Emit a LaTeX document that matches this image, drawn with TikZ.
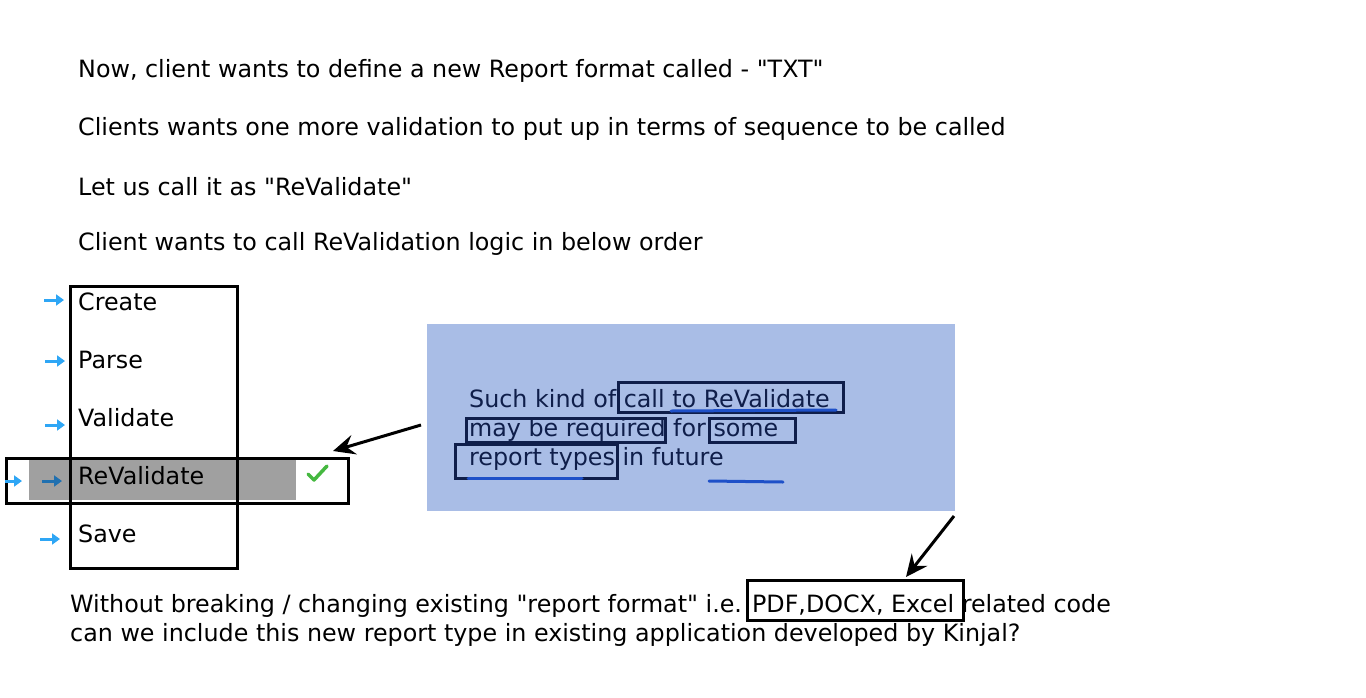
\documentclass[tikz,border=0pt]{standalone}
\usepackage{fontspec}
\setmainfont{DejaVu Sans}[Ligatures=TeXOff]
\usetikzlibrary{arrows.meta, positioning, fit}

\definecolor{notefill}{HTML}{A9BDE6}
\definecolor{notetext}{HTML}{0F1E4A}
\definecolor{pen}{HTML}{1E50C8}
\definecolor{stepblue}{HTML}{2EA6F5}
\definecolor{stepdark}{HTML}{2070B0}
\definecolor{rowgrey}{HTML}{A0A0A0}
\definecolor{okgreen}{HTML}{45B840}

\begin{document}
\begin{tikzpicture}[x=1pt, y=-1pt,
  txt/.style={anchor=west, inner sep=0pt, font=\fontsize{23.8}{29}\selectfont, align=left},
  stage/.style={txt},
  frame/.style={draw, line width=3pt},
  phrasebox/.style={draw=notetext, line width=3pt},
  penline/.style={draw=pen, line width=3pt, line cap=round},
  steparr/.style={-{Triangle[length=8pt, width=11pt]}, line width=3pt, stepblue},
  arr/.style={-{Stealth[length=22pt, width=20pt, inset=8pt]}, line width=3pt}
]
  \useasboundingbox (0,0) rectangle (1366,697);

  % Intro text
  \node[txt] (l1) at (78,71) {Now, client wants to define a new Report format called - "TXT"};
  \node[txt] (l2) at (78,129) {Clients wants one more validation to put up in terms of sequence to be called};
  \node[txt] (l3) at (78,187) {Let us call it as "ReValidate"};
  \node[txt] (l4) at (78,244) {Client wants to call ReValidation logic in below order};

  % Sequence of calls
  \fill[rowgrey] (29,458) rectangle (296,500);
  \node[frame, minimum width=167pt, minimum height=282pt, anchor=north west] (seq) at (69,285) {};
  \node[frame, minimum width=342pt, minimum height=45pt, anchor=north west] (row) at (5,457) {};
  \node[stage] (create) at (78,302) {Create};
  \node[stage] (parse) at (78,360) {Parse};
  \node[stage] (validate) at (78,418) {Validate};
  \node[stage] (revalidate) at (78,476) {ReValidate};
  \node[stage] (save) at (78,534) {Save};

  \draw[steparr] (44,300) -- (64,300);
  \draw[steparr] (45,361) -- (65,361);
  \draw[steparr] (45,425) -- (65,425);
  \draw[steparr, stepdark] (42,481) -- (62,481);
  \draw[steparr] (5,481) -- (22,481);
  \draw[steparr] (40,539) -- (60,539);

  % check mark
  \draw[okgreen, line width=3.5pt, line cap=round, line join=round] (308,474) -- (314,480) -- (327,466);

  % Note
  \node[fill=notefill, minimum width=528pt, minimum height=187pt, anchor=north west] (note) at (427,324) {};
  \node[txt, text=notetext] (notetxt) at (469,430) {Such kind of call to ReValidate\\may be required for some\\report types in future};
  \draw[phrasebox] (618,382) rectangle (843,412);
  \draw[phrasebox] (466,418) rectangle (665,442);
  \draw[phrasebox] (709,418) rectangle (795,442);
  \draw[phrasebox] (455,444) rectangle (617,478);
  \draw[penline] (671,411) -- (836,410);
  \draw[penline] (468,478) -- (582,478);
  \draw[penline] (709,481) -- (783,482);

  % Question
  \node[txt] (q1) at (70,606) {Without breaking / changing existing "report format" i.e. PDF,DOCX, Excel related code};
  \node[txt] (q2) at (70,635) {can we include this new report type in existing application developed by Kinjal?};
  \node[frame, minimum width=216pt, minimum height=40pt, anchor=north west] (formats) at (746,579) {};

  % Arrows
  \coordinate (a1) at (421,425);
  \coordinate (b1) at (333,451);
  \coordinate (a2) at (954,516);
  \coordinate (b2) at (906,577);
  \draw[arr] (a1) -- (b1);
  \draw[arr] (a2) -- (b2);
\end{tikzpicture}
\end{document}
